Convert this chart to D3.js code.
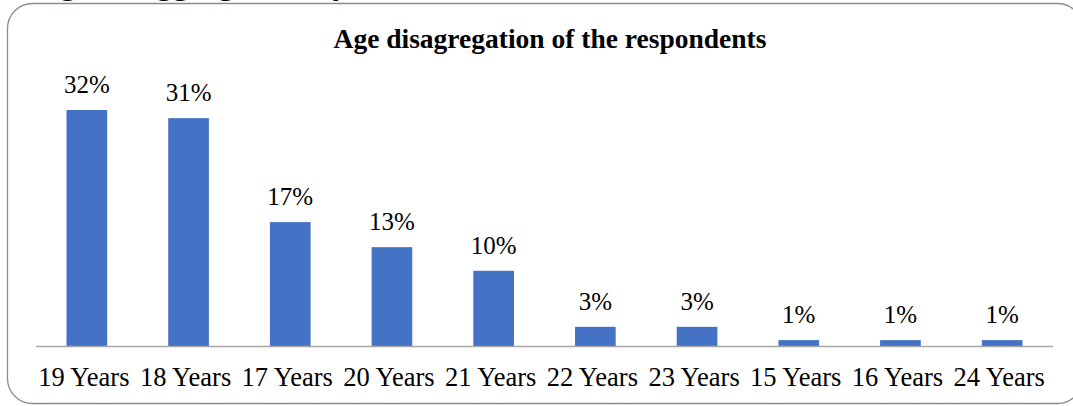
<!DOCTYPE html>
<html>
<head>
<meta charset="utf-8">
<script src="https://cdn.jsdelivr.net/npm/d3@7/dist/d3.min.js"></script>
<style>
  html, body { margin: 0; padding: 0; background: #fff; }
  svg { display: block; }
</style>
</head>
<body>
<svg id="chart" width="1073" height="406"></svg>
<script>
const categories = ["19 Years", "18 Years", "17 Years", "20 Years", "21 Years", "22 Years", "23 Years", "15 Years", "16 Years", "24 Years"];
const values = [32.0, 30.9, 16.8, 13.4, 10.2, 2.6, 2.6, 0.8, 0.8, 0.8];
const pctLabels = ["32%", "31%", "17%", "13%", "10%", "3%", "3%", "1%", "1%", "1%"];
const chartTitle = "Age disagregation of the respondents";
const captionText = "Age disaggregation by";

const svg = d3.select("#chart");
const serif = "'Liberation Serif', 'Times New Roman', Times, serif";

// cropped caption above the chart frame (only descenders visible)
svg.append("text")
  .attr("x", 36).attr("y", -6.5)
  .attr("font-family", serif).attr("font-weight", "bold")
  .attr("font-size", 33).attr("fill", "#000")
  .text(captionText);

// chart frame
svg.append("rect")
  .attr("x", 7.5).attr("y", 3.5)
  .attr("width", 1075).attr("height", 400)
  .attr("rx", 25).attr("ry", 25)
  .attr("fill", "#fff").attr("stroke", "#8c8c8c").attr("stroke-width", 1.3);

const plotLeft = 36, plotRight = 1053, baseY = 346;

const x = d3.scaleBand().domain(categories).range([plotLeft, plotRight]).paddingInner(0.6).paddingOuter(0.3);
const y = d3.scaleLinear().domain([0, 35]).range([baseY, baseY - 35 * 7.375]);

// title
svg.append("text")
  .attr("x", 550).attr("y", 48)
  .attr("text-anchor", "middle")
  .attr("font-family", serif).attr("font-weight", "bold")
  .attr("font-size", 27.5).attr("fill", "#000")
  .text(chartTitle);

// bars
svg.append("g").selectAll("rect")
  .data(values)
  .join("rect")
  .attr("x", (d, i) => x(categories[i]))
  .attr("y", d => y(d))
  .attr("width", x.bandwidth())
  .attr("height", d => y(0) - y(d))
  .attr("fill", "#4472C4");

// value labels
svg.append("g").selectAll("text")
  .data(values)
  .join("text")
  .attr("x", (d, i) => x(categories[i]) + x.bandwidth() / 2)
  .attr("y", d => y(d) - 17)
  .attr("text-anchor", "middle")
  .attr("font-family", serif).attr("font-size", 25).attr("fill", "#000")
  .text((d, i) => pctLabels[i]);

// x axis
const xAxis = d3.axisBottom(x).tickSize(0).tickPadding(0);
const gx = svg.append("g").attr("transform", `translate(0,${baseY})`).call(xAxis);
gx.select(".domain").attr("d", `M${plotLeft},0.5H${plotRight}`).attr("stroke", "#a6a6a6").attr("stroke-width", 1.3);
gx.selectAll(".tick text")
  .attr("y", 40).attr("dy", 0).attr("dx", -3)
  .attr("font-family", serif).attr("font-size", 26.5).attr("fill", "#000");
</script>
</body>
</html>
